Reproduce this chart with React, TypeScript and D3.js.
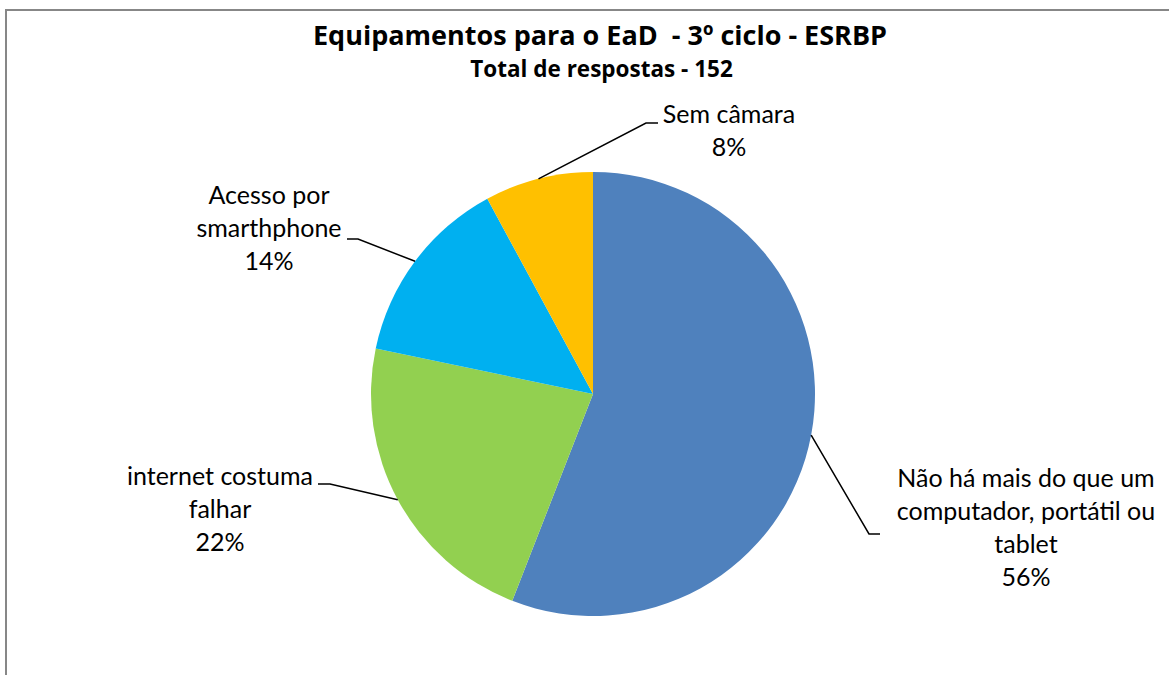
import React from "react";
import * as d3 from "d3";

const categories = [
  "Não há mais do que um computador, portátil ou tablet",
  "internet costuma falhar",
  "Acesso por smarthphone",
  "Sem câmara",
];
const labelLines = [
  ["Não há mais do que um", "computador, portátil ou", "tablet"],
  ["internet costuma", "falhar"],
  ["Acesso por", "smarthphone"],
  ["Sem câmara"],
];
const counts = [85, 34, 21, 12];
const colors = ["#4F81BD", "#92D050", "#00B0F0", "#FFC000"];
const title = "Equipamentos para o EaD  - 3º ciclo - ESRBP";
const subtitle = "Total de respostas - 152";

// layout (label anchor: center x, first baseline y; elbow point; elbow end side)
const labelLayout = [
  { x: 1026, y: 487, ex: 869, ey: 534, hx: 880 },
  { x: 220, y: 485, ex: 330, ey: 484, hx: 318 },
  { x: 269, y: 204, ex: 358, ey: 239, hx: 347 },
  { x: 729, y: 123, ex: 646, ey: 123, hx: 658 },
];

const W = 1169;
const H = 675;
const cx = 593;
const cy = 394;
const R = 222;
const FONT = "Lato, 'Open Sans', sans-serif";
const TFONT = "'Open Sans', Lato, sans-serif";
const LH = 33;

export default function App() {
  const total = d3.sum(counts);
  const pie = d3.pie<number>().sort(null).value((d) => d)(counts);
  const arc = d3.arc<d3.PieArcDatum<number>>().innerRadius(0).outerRadius(R);
  const fmt = d3.format(".0%");

  return (
    <svg
      width={W}
      height={H}
      style={{ position: "absolute", left: 0, top: 0, background: "#fff" }}
      fontFamily={FONT}
    >
      <rect x={0} y={0} width={W} height={H} fill="#fff" />
      <rect x={6} y={10} width={W + 20} height={H + 20} fill="none" stroke="#878787" strokeWidth={2} />
      <text
        x={600}
        y={45}
        textAnchor="middle"
        fontWeight="bold"
        fontSize={27}
        fill="#000"
        fontFamily={TFONT}
        style={{ whiteSpace: "pre" }}
      >
        {title}
      </text>
      <text x={601.5} y={77} textAnchor="middle" fontWeight="bold" fontSize={22.5} fill="#000" fontFamily={TFONT}>
        {subtitle}
      </text>
      <g transform={`translate(${cx},${cy})`}>
        {pie.map((p, i) => (
          <path key={categories[i]} d={arc(p) || ""} fill={colors[i]} />
        ))}
      </g>
      {pie.map((p, i) => {
        const mid = (p.startAngle + p.endAngle) / 2;
        const sx = cx + R * Math.sin(mid);
        const sy = cy - R * Math.cos(mid);
        const L = labelLayout[i];
        const lines = [...labelLines[i], fmt(counts[i] / total)];
        return (
          <g key={"lab" + i}>
            <polyline
              points={`${sx},${sy} ${L.ex},${L.ey} ${L.hx},${L.ey}`}
              fill="none"
              stroke="#000"
              strokeWidth={1.5}
            />
            <text x={L.x} y={L.y} textAnchor="middle" fontSize={25} fill="#000">
              {lines.map((t, j) => (
                <tspan key={j} x={L.x} y={L.y + j * LH}>
                  {t}
                </tspan>
              ))}
            </text>
          </g>
        );
      })}
    </svg>
  );
}
